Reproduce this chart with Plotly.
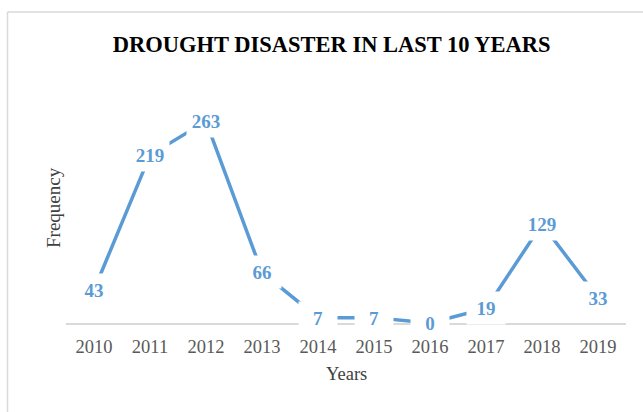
import plotly.graph_objects as go

# ---- data ----
years = ["2010", "2011", "2012", "2013", "2014", "2015", "2016", "2017", "2018", "2019"]
frequency = [43, 219, 263, 66, 7, 7, 0, 19, 129, 33]
y_range = [0, 300]
title_text = "DROUGHT DISASTER IN LAST 10 YEARS"
x_title = "Years"
y_title = "Frequency"

# ---- layout geometry (pixels) ----
W, H = 643, 412
L, R, T, B = 66, 17, 93, 89
PW, PH = W - L - R, H - T - B

def px_x(x):
    return (x - L) / PW

def px_y(y):
    return (H - B - y) / PH

SERIF = "Times New Roman, Liberation Serif, serif"
BLUE = "#5B9BD5"

fig = go.Figure()
fig.add_trace(go.Scatter(
    x=years, y=frequency, mode="lines",
    line=dict(color=BLUE, width=3.5),
    hoverinfo="x+y", showlegend=False,
))

# data labels with white background that hides the line behind them
# (category axis: annotation x is given as the category index)
for i, v in enumerate(frequency):
    fig.add_annotation(
        x=i, y=v, xref="x", yref="y", text=f"<b>{v}</b>",
        showarrow=False, bgcolor="white", width=34, height=28, borderpad=2,
        font=dict(family=SERIF, size=19, color=BLUE),
        xanchor="center", yanchor="middle",
    )

# axis titles
fig.add_annotation(
    x=px_x(53), y=0.5, xref="paper", yref="paper", text=y_title,
    textangle=-90, showarrow=False, xanchor="center", yanchor="middle",
    font=dict(family=SERIF, size=19, color="#404040"),
)
fig.add_annotation(
    x=0.5, y=px_y(374), xref="paper", yref="paper", text=x_title,
    showarrow=False, xanchor="center", yanchor="middle",
    font=dict(family=SERIF, size=18.5, color="#404040"),
)

# chart-area border (left and top edges visible)
border = dict(color="#d9d9d9", width=1.5)
fig.add_shape(type="line", xref="paper", yref="paper",
              x0=px_x(7.5), x1=px_x(7.5), y0=px_y(H + 5), y1=px_y(12), line=border)
fig.add_shape(type="line", xref="paper", yref="paper",
              x0=px_x(7.5), x1=px_x(W + 5), y0=px_y(12), y1=px_y(12), line=border)

fig.update_layout(
    width=W, height=H,
    margin=dict(l=L, r=R, t=T, b=B),
    paper_bgcolor="white", plot_bgcolor="white",
    title=dict(text=f"<b>{title_text}</b>", x=331.7 / W, xref="container",
               y=1 - 44 / H, yref="container", xanchor="center", yanchor="middle",
               font=dict(family=SERIF, size=22.5, color="black")),
    xaxis=dict(type="category", categoryorder="array", categoryarray=years,
               range=[-0.5, len(years) - 0.5],
               showline=True, linecolor="#d9d9d9", linewidth=1.5,
               showgrid=False, zeroline=False, ticks="",
               tickfont=dict(family=SERIF, size=18.5, color="#595959"),
               ticklabelstandoff=6),
    yaxis=dict(range=y_range, visible=False, showgrid=False, zeroline=False),
)

fig.write_html("out.html")
